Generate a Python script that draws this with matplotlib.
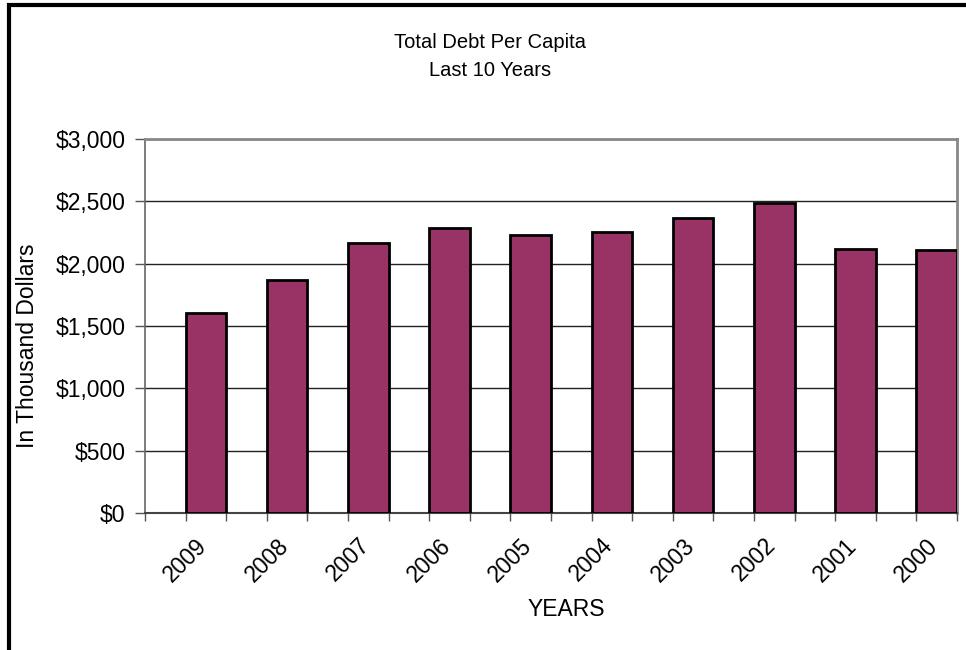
import matplotlib
matplotlib.use('Agg')
import matplotlib.pyplot as plt
from matplotlib.patches import Rectangle
from matplotlib.ticker import FuncFormatter, MultipleLocator

plt.rcParams['font.family'] = ['Liberation Sans', 'DejaVu Sans']

# Debt per capita, most recent year first
years = ['2009', '2008', '2007', '2006', '2005', '2004', '2003', '2002', '2001', '2000']
debt = [1604, 1869, 2168, 2288, 2232, 2251, 2366, 2487, 2118, 2107]

W, H = 966, 650
fig = plt.figure(figsize=(W / 100, H / 100), dpi=100)
ax = fig.add_axes([145 / W, 1 - 513 / H, 812 / W, 374 / H])

# bars sit in the right half of each category slot
idx = list(range(len(years)))
ax.bar([i + 0.25 for i in idx], debt, width=0.5, color='#993366',
       edgecolor='black', linewidth=2, zorder=3)

ax.set_xlim(-0.5, len(years) - 0.5)
ax.set_ylim(0, 3000)
ax.yaxis.set_major_locator(MultipleLocator(500))
ax.yaxis.set_major_formatter(FuncFormatter(lambda v, p: '${:,.0f}'.format(v)))
ax.grid(axis='y', color='#222222', linewidth=1, zorder=1)

ax.set_xticks(idx)
ax.set_xticklabels(years, rotation=45, ha='center', fontsize=16.5)
ax.set_xticks([i - 0.5 for i in idx] + [len(years) - 0.5], minor=True)
ax.tick_params(axis='x', which='major', length=6, width=1, color='#555555', pad=9)
ax.tick_params(axis='x', which='minor', length=6, width=1, color='#555555')
ax.tick_params(axis='y', length=7, width=1, color='#555555', labelsize=16.5, pad=7)

for side in ['top', 'right']:
    ax.spines[side].set_color('#888888')
    ax.spines[side].set_linewidth(2)
ax.spines['left'].set_color('#666666')
ax.spines['left'].set_linewidth(1.2)
ax.spines['bottom'].set_color('#444444')
ax.spines['bottom'].set_linewidth(1.5)

ax.set_xlabel('YEARS', fontsize=16.5)
ax.xaxis.set_label_coords((566 - 145) / 812, (513 - 609) / 374)
ax.set_ylabel('In Thousand Dollars', fontsize=16.5)
ax.yaxis.set_label_coords((27 - 145) / 812, (513 - 346) / 374)
ax.xaxis.label.set_va('center')
ax.yaxis.label.set_va('center')

fig.text(490 / W, 1 - 57 / H, 'Total Debt Per Capita\nLast 10 Years',
         ha='center', va='center', fontsize=14.5, linespacing=1.6)

# outer frame of the chart area
fig.patches.append(Rectangle((9 / W, -0.1), 1.2, 1 - 5 / H + 0.1,
                             transform=fig.transFigure, fill=False,
                             edgecolor='black', linewidth=3))

fig.savefig('out.png', dpi=100)
